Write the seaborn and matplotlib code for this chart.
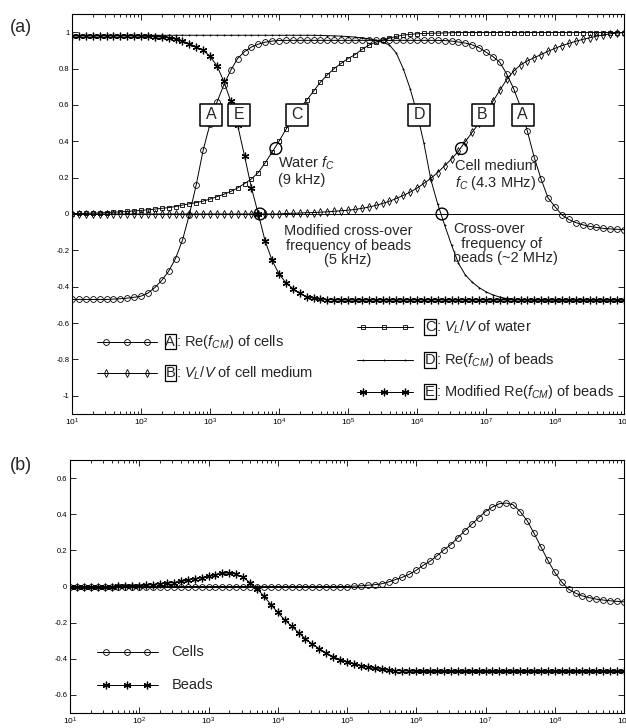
import numpy as np
import pandas as pd
import seaborn as sns
import matplotlib.pyplot as plt
from matplotlib.ticker import LogLocator, FixedLocator, FuncFormatter, NullFormatter, LogFormatterSciNotation

sns.set_style('ticks')
plt.rcParams['font.family'] = ['Liberation Sans', 'DejaVu Sans']
plt.rcParams['mathtext.fontset'] = 'custom'
plt.rcParams['mathtext.rm'] = 'Liberation Sans'
plt.rcParams['mathtext.it'] = 'Liberation Sans:italic'
plt.rcParams['mathtext.bf'] = 'Liberation Sans:bold'

# frequency grid, 10 points per decade from 10 Hz to 1 GHz
freq = np.logspace(1, 9, 81)

# (a) curves
A_cells_re_fcm = [-0.47] * 6 + [
    -0.468, -0.466, -0.463, -0.458, -0.452, -0.435, -0.405, -0.365, -0.315, -0.245,
    -0.145, -0.005, 0.16, 0.35, 0.495, 0.614, 0.71, 0.79, 0.855, 0.893,
    0.918, 0.934, 0.945, 0.951, 0.954] + [0.955] * 23 + [
    0.954, 0.951, 0.946, 0.94, 0.93, 0.915, 0.89, 0.866, 0.835, 0.77,
    0.69, 0.59, 0.455, 0.31, 0.19, 0.088, 0.04, -0.005, -0.03, -0.047,
    -0.059, -0.068, -0.074, -0.079, -0.082, -0.084, -0.086]

B_medium_vl = [0.0] * 31 + [
    0.003, 0.004, 0.005, 0.007, 0.008, 0.010, 0.012, 0.015, 0.018,
    0.021, 0.025, 0.031, 0.038, 0.047, 0.058, 0.07, 0.085, 0.102, 0.12,
    0.142, 0.168, 0.196, 0.228, 0.265, 0.303, 0.345, 0.398, 0.45, 0.50,
    0.565, 0.62, 0.68, 0.74, 0.785, 0.82, 0.842, 0.86, 0.877, 0.895,
    0.911, 0.926, 0.938, 0.95, 0.96, 0.969, 0.978, 0.985, 0.991, 0.995,
    0.998]

C_water_vl = [
    0.002, 0.003, 0.004, 0.005, 0.006, 0.008, 0.010, 0.012, 0.014, 0.017,
    0.020, 0.023, 0.027, 0.031, 0.035, 0.041, 0.049, 0.056, 0.063, 0.071,
    0.082, 0.095, 0.108, 0.124, 0.143, 0.167, 0.193, 0.228, 0.282, 0.34,
    0.40, 0.465, 0.53, 0.58, 0.625, 0.675, 0.725, 0.765, 0.80, 0.828,
    0.855, 0.876, 0.905, 0.928, 0.945, 0.957, 0.967, 0.977, 0.984, 0.988,
    0.991, 0.993, 0.994, 0.995, 0.996, 0.997] + [0.998] * 25

D_beads_re_fcm = [0.983] * 36 + [
    0.982, 0.981, 0.98, 0.978, 0.976, 0.973, 0.969, 0.964, 0.957, 0.945,
    0.93, 0.885, 0.80, 0.69, 0.555, 0.39, 0.19, 0.055, -0.06, -0.17,
    -0.27, -0.335, -0.375, -0.405, -0.428, -0.445, -0.457, -0.465, -0.469, -0.471,
    -0.472] + [-0.473] * 14

E_beads_mod = [0.979] * 10 + [
    0.978, 0.977, 0.975, 0.973, 0.969, 0.962, 0.952, 0.937, 0.92, 0.90,
    0.868, 0.815, 0.73, 0.62, 0.49, 0.32, 0.145, 0.0, -0.15, -0.255,
    -0.33, -0.378, -0.41, -0.436, -0.454, -0.463, -0.468, -0.471, -0.472] + [-0.473] * 42

# (b) curves
cells_b = [0.0] * 41 + [
    0.002, 0.004, 0.007, 0.01, 0.015, 0.025, 0.038, 0.051, 0.068,
    0.09, 0.117, 0.14, 0.17, 0.203, 0.232, 0.27, 0.308, 0.344, 0.38,
    0.415, 0.44, 0.458, 0.462, 0.452, 0.415, 0.365, 0.295, 0.22, 0.145,
    0.078, 0.025, -0.015, -0.037, -0.052, -0.062, -0.07, -0.075, -0.079, -0.082,
    -0.085]

beads_b = [0.0] * 7 + [
    0.001, 0.002, 0.003,
    0.005, 0.008, 0.011, 0.015, 0.018, 0.022, 0.028, 0.035, 0.042, 0.049,
    0.058, 0.066, 0.073, 0.075, 0.068, 0.05, 0.022, -0.012, -0.053, -0.1,
    -0.143, -0.185, -0.22, -0.255, -0.29, -0.318, -0.344, -0.368, -0.388, -0.404,
    -0.417, -0.428, -0.438, -0.446, -0.453, -0.458, -0.462, -0.465, -0.467, -0.468] + [-0.47] * 31

# marked cross-over / corner frequencies
fc_freq = [9e3, 5.3e3, 4.4e6, 2.3e6]
fc_val = [0.36, 0.0, 0.36, 0.0]

# boxed curve letters
box_letters = ['A', 'E', 'C', 'D', 'B', 'A']
box_freq = [1.05e3, 2.65e3, 1.85e4, 1.07e6, 8.9e6, 3.4e7]
box_val = [0.545] * 6

xticks = [1e1, 1e2, 1e3, 1e4, 1e5, 1e6, 1e7, 1e8, 1e9]
yticks_a = [-1, -0.8, -0.6, -0.4, -0.2, 0, 0.2, 0.4, 0.6, 0.8, 1]
yticks_b = [-0.6, -0.4, -0.2, 0, 0.2, 0.4, 0.6]

styles = {
    'A': dict(marker='o', markersize=4.2, mew=0.6),
    'B': dict(marker='d', markersize=4.2, mew=0.6),
    'C': dict(marker='s', markersize=3.0, mew=0.6),
    'D': dict(marker='.', markersize=1.5, mew=0.6),
    'E': dict(marker=(6, 2, 0), markersize=5.5, mew=0.9),
}

fig = plt.figure(figsize=(6.26, 7.28), dpi=100)
ax_a = fig.add_axes([72 / 626, 1 - 414 / 728, 552 / 626, 400 / 728])
ax_b = fig.add_axes([70 / 626, 1 - 713 / 728, 554 / 626, 253 / 728])


def draw_curve(ax, y, key):
    st = styles[key]
    sns.lineplot(x=freq, y=y, ax=ax, color='k', linewidth=0.7, estimator=None, sort=False,
                 marker=st['marker'], markersize=st['markersize'],
                 markerfacecolor='none', markeredgecolor='k', markeredgewidth=st['mew'])


def style_axes(ax, ylim, yticks):
    ax.set_xscale('log')
    ax.set_xlim(10, 1e9)
    ax.set_ylim(*ylim)
    ax.xaxis.set_major_locator(FixedLocator(xticks))
    ax.xaxis.set_major_formatter(LogFormatterSciNotation())
    ax.xaxis.set_minor_locator(LogLocator(base=10, subs=np.arange(2, 10), numticks=20))
    ax.xaxis.set_minor_formatter(NullFormatter())
    ax.yaxis.set_major_locator(FixedLocator(yticks))
    ax.yaxis.set_major_formatter(FuncFormatter(lambda v, p: '%g' % v))
    ax.tick_params(which='both', direction='in', top=True, right=True, width=0.6, colors='k')
    ax.tick_params(which='major', length=4, labelsize=6, pad=2)
    ax.tick_params(which='minor', length=2)
    ax.tick_params(axis='y', labelsize=5.5)
    ax.set_xlabel('')
    ax.set_ylabel('')
    for s in ax.spines.values():
        s.set_linewidth(0.8)
        s.set_color('k')
    ax.axhline(0, color='k', lw=0.7, zorder=1)


# ---- panel (a)
draw_curve(ax_a, A_cells_re_fcm, 'A')
draw_curve(ax_a, B_medium_vl, 'B')
draw_curve(ax_a, C_water_vl, 'C')
draw_curve(ax_a, D_beads_re_fcm, 'D')
draw_curve(ax_a, E_beads_mod, 'E')
style_axes(ax_a, (-1.1, 1.1), yticks_a)

sns.scatterplot(x=fc_freq, y=fc_val, ax=ax_a, s=72, facecolor='none', edgecolor='k',
                linewidth=1.0, zorder=4)
sns.scatterplot(x=box_freq, y=box_val, ax=ax_a, marker='s', s=240, facecolor='white',
                edgecolor='k', linewidth=1.1, zorder=5)
for lt, bx, by in zip(box_letters, box_freq, box_val):
    ax_a.text(bx, by, lt, ha='center', va='center', fontsize=11.5, zorder=6)

note_fs = 10.5
ax_a.text(9.6e3, 0.325, 'Water $f_C$\n(9 kHz)', ha='left', va='top', fontsize=note_fs, linespacing=1.05)
ax_a.text(3.5e6, 0.30, 'Cell medium\n$f_C$ (4.3 MHz)', ha='left', va='top', fontsize=note_fs, linespacing=1.05)
ax_a.text(1.0e5, -0.055, 'Modified cross-over\nfrequency of beads\n(5 kHz)', ha='center', va='top',
          fontsize=note_fs, linespacing=1.05)
ax_a.text(3.3e6, -0.045, 'Cross-over\n  frequency of\nbeads (~2 MHz)', ha='left', va='top',
          fontsize=note_fs, linespacing=1.05)


def legend_row(ax, y, key, line_x, mark_x, text, text_x, letter=None, letter_x=None):
    st = styles[key]
    ax.plot(line_x, [y, y], transform=ax.transAxes, color='k', lw=0.7, clip_on=False)
    ax.plot(mark_x, [y] * len(mark_x), transform=ax.transAxes, ls='none', color='k',
            marker=st['marker'], markersize=st['markersize'], mfc='none', mec='k', mew=st['mew'])
    if letter:
        ax.text(letter_x, y, letter, transform=ax.transAxes, ha='center', va='center', fontsize=note_fs,
                bbox=dict(boxstyle='square,pad=0.05', fc='white', ec='k', lw=0.9))
    ax.text(text_x, y, text, transform=ax.transAxes, ha='left', va='center', fontsize=note_fs)


left_line = [0.0447, 0.1534]
left_marks = [0.0616, 0.099, 0.1364]
right_line = [0.5157, 0.6183]
right_marks = [0.5266, 0.5658, 0.6038]
legend_row(ax_a, 0.181, 'A', left_line, left_marks, ': Re($f_{CM}$) of cells', 0.1875, 'A', 0.178)
legend_row(ax_a, 0.102, 'B', left_line, left_marks, ': $V_L$/$V$ of cell medium', 0.1875, 'B', 0.178)
legend_row(ax_a, 0.218, 'C', right_line, right_marks, ': $V_L$/$V$ of water', 0.659, 'C', 0.6486)
legend_row(ax_a, 0.135, 'D', right_line, right_marks, ': Re($f_{CM}$) of beads', 0.659, 'D', 0.6486)
legend_row(ax_a, 0.056, 'E', right_line, right_marks, ': Modified Re($f_{CM}$) of beads', 0.659, 'E', 0.6486)

# ---- panel (b)
draw_curve(ax_b, cells_b, 'A')
draw_curve(ax_b, beads_b, 'E')
style_axes(ax_b, (-0.7, 0.7), yticks_b)

b_line = [0.0482, 0.1594]
b_marks = [0.065, 0.1023, 0.1384]
legend_row(ax_b, 0.242, 'A', b_line, b_marks, 'Cells', 0.1835)
legend_row(ax_b, 0.111, 'E', b_line, b_marks, 'Beads', 0.1835)

fig.text(10 / 626, 1 - 27 / 728, '(a)', fontsize=13, va='center', ha='left')
fig.text(10 / 626, 1 - 466 / 728, '(b)', fontsize=13, va='center', ha='left')

fig.savefig('out.png', dpi=100)
